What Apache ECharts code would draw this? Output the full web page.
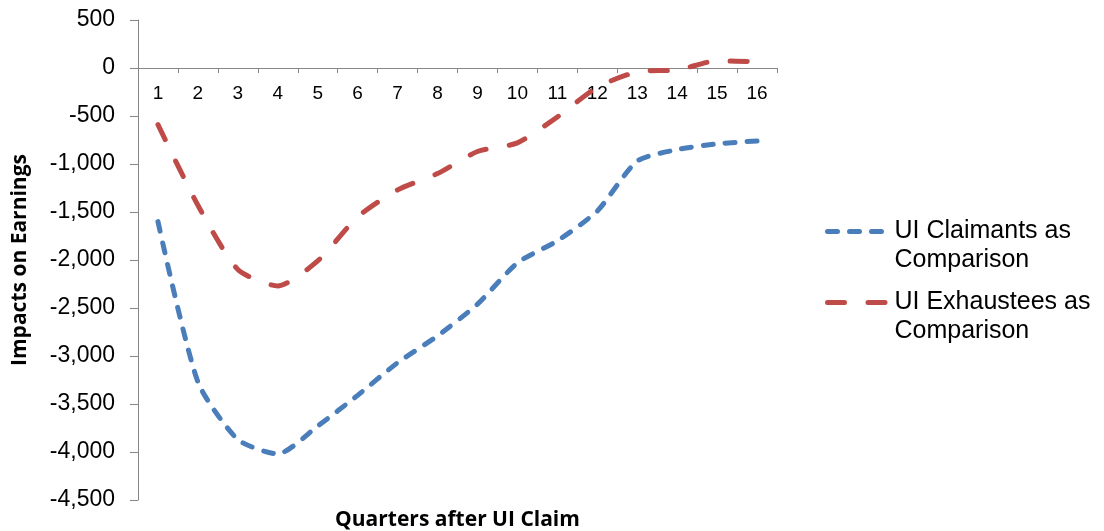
<!DOCTYPE html>
<html>
<head>
<meta charset="utf-8">
<script src="https://cdn.jsdelivr.net/npm/echarts@6/dist/echarts.min.js"></script>
<style>
  html, body { margin: 0; padding: 0; background: #ffffff; }
  #chart { width: 1104px; height: 531px; }
</style>
</head>
<body>
<div id="chart"></div>
<script>
const quarters = ['1','2','3','4','5','6','7','8','9','10','11','12','13','14','15','16'];
const claimantsName = 'UI Claimants as\nComparison';
const exhausteesName = 'UI Exhaustees as\nComparison';
const claimants = [-1600, -3270, -3870, -4020, -3730, -3410, -3070, -2790, -2460, -2030, -1800, -1490, -970, -850, -790, -760];
const exhaustees = [-590, -1430, -2100, -2270, -2010, -1550, -1270, -1100, -870, -780, -510, -200, -40, -20, 75, 65];
const yMin = -4500, yMax = 500, yStep = 500;
const xTitle = 'Quarters after UI Claim';
const yTitle = 'Impacts on Earnings';

const axisGray = '#868686';
const blue = '#4A7EBB';
const red = '#BE4B48';
const blueDash = [10, 12];
const redDash = [17, 23.5];
const gridTop = 20, gridBottom = 31;
const chartH = 531;
const chart = echarts.init(document.getElementById('chart'), null, { renderer: 'canvas' });

// place the category axis line at value 0 (offset from the grid top)
const plotH = chartH - gridTop - gridBottom;
const zeroOffset = -plotH * (yMax - 0) / (yMax - yMin);

const legendText = {
  fontFamily: 'Liberation Sans, Arial, sans-serif',
  fontSize: 25,
  lineHeight: 29,
  color: '#000000'
};
function legendOf(name, top, color, dash) {
  return {
    data: [name], orient: 'vertical', left: 820, top: top,
    itemWidth: 62, itemHeight: 14, itemGap: 0,
    formatter: n => '\n' + n,
    textStyle: legendText,
    itemStyle: { opacity: 0 },
    lineStyle: { color: color, width: 5, type: dash, cap: 'round' }
  };
}
const titleStyle = { fontFamily: 'Open Sans', fontWeight: 'bold', fontSize: 21, color: '#000000' };

chart.setOption({
  animation: false,
  backgroundColor: '#ffffff',
  grid: { left: 138, right: 327, top: gridTop, bottom: gridBottom, containLabel: false, outerBoundsMode: 'none' },
  legend: [
    legendOf(claimantsName, 183, blue, blueDash),
    legendOf(exhausteesName, 254, red, redDash)
  ],
  xAxis: [
    {
      type: 'category',
      data: quarters,
      boundaryGap: true,
      position: 'top',
      offset: zeroOffset,
      axisLine: { onZero: false, lineStyle: { color: axisGray, width: 1 } },
      axisTick: { show: true, inside: true, length: 5, lineStyle: { color: axisGray } },
      axisLabel: { inside: true, margin: 16, fontFamily: 'Liberation Sans, Arial, sans-serif', fontSize: 19, color: '#000000' },
      splitLine: { show: false }
    },
    {
      type: 'category',
      data: quarters,
      position: 'bottom',
      axisLine: { show: false, onZero: false },
      axisTick: { show: false },
      axisLabel: { show: false },
      splitLine: { show: false },
      name: xTitle,
      nameLocation: 'middle',
      nameGap: 10,
      nameTextStyle: titleStyle
    }
  ],
  yAxis: {
    type: 'value',
    min: yMin, max: yMax, interval: yStep,
    axisLine: { show: true, lineStyle: { color: axisGray, width: 1 } },
    axisTick: { show: true, length: 8, lineStyle: { color: axisGray } },
    axisLabel: {
      margin: 23,
      fontFamily: 'Liberation Sans, Arial, sans-serif', fontSize: 23, color: '#000000',
      formatter: v => v.toLocaleString('en-US')
    },
    splitLine: { show: false },
    name: yTitle,
    nameLocation: 'middle',
    nameRotate: 90,
    nameGap: 107,
    nameTextStyle: titleStyle
  },
  series: [
    {
      name: claimantsName,
      type: 'line',
      data: claimants,
      smooth: 0.22,
      symbol: 'none',
      showSymbol: false,
      color: blue,
      lineStyle: { color: blue, width: 5, type: blueDash, cap: 'round', join: 'round' }
    },
    {
      name: exhausteesName,
      type: 'line',
      data: exhaustees,
      smooth: 0.22,
      symbol: 'none',
      showSymbol: false,
      color: red,
      lineStyle: { color: red, width: 5, type: redDash, cap: 'round', join: 'round' }
    }
  ]
});
</script>
</body>
</html>
